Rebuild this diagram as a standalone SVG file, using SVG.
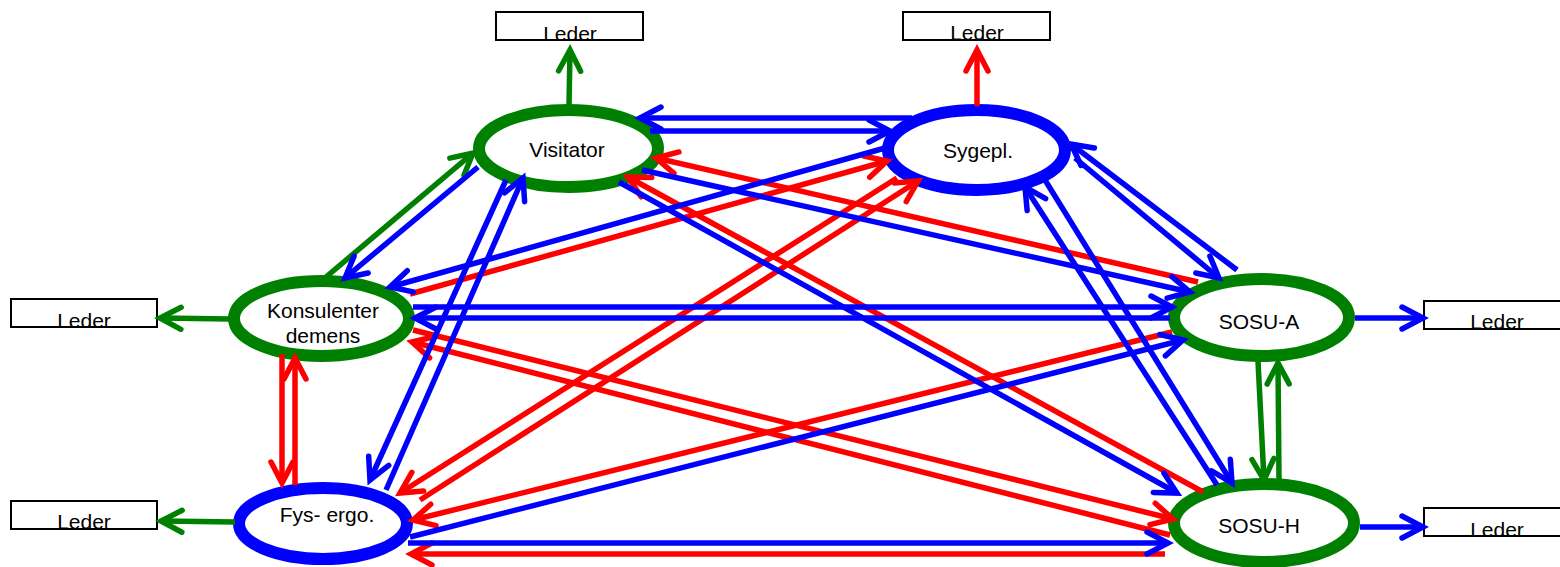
<svg xmlns="http://www.w3.org/2000/svg" width="1560" height="567" viewBox="0 0 1560 567">
<style>
.node{fill:#fff;stroke-width:12}
.g{stroke:#008000}
.b{stroke:#0000ff}
.lbl{font-family:"Liberation Sans",Arial,sans-serif;font-size:21px;fill:#000;text-anchor:middle}
.box{fill:#fff;stroke:#000;stroke-width:2}
#connectors line{stroke-width:5.5;fill:none}
.cg{stroke:#008000;marker-end:url(#mg)}
.cr{stroke:#ff0000;marker-end:url(#mr)}
.cb{stroke:#0000ff;marker-end:url(#mb)}
</style>
<defs>
<marker id="mg" markerUnits="userSpaceOnUse" viewBox="-26 -15 30 30" refX="0" refY="0" markerWidth="30" markerHeight="30" orient="auto" overflow="visible"><path d="M-21,-11 L0,0 L-21,11" fill="none" stroke="#008000" stroke-width="5.5" stroke-linecap="round" stroke-linejoin="miter"/></marker>
<marker id="mr" markerUnits="userSpaceOnUse" viewBox="-26 -15 30 30" refX="0" refY="0" markerWidth="30" markerHeight="30" orient="auto" overflow="visible"><path d="M-21,-11 L0,0 L-21,11" fill="none" stroke="#ff0000" stroke-width="5.5" stroke-linecap="round" stroke-linejoin="miter"/></marker>
<marker id="mb" markerUnits="userSpaceOnUse" viewBox="-26 -15 30 30" refX="0" refY="0" markerWidth="30" markerHeight="30" orient="auto" overflow="visible"><path d="M-21,-11 L0,0 L-21,11" fill="none" stroke="#0000ff" stroke-width="5.5" stroke-linecap="round" stroke-linejoin="miter"/></marker>
</defs>
<rect width="1560" height="567" fill="#fff"/>
<g id="leder-visitator"><rect class="box" x="496" y="12" width="147" height="28"/><text class="lbl" x="570" y="41">Leder</text></g>
<g id="leder-sygepl"><rect class="box" x="903" y="12" width="147" height="28"/><text class="lbl" x="977" y="40">Leder</text></g>
<g id="leder-konsulenter"><rect class="box" x="11" y="299" width="146" height="28"/><text class="lbl" x="84" y="328">Leder</text></g>
<g id="leder-fys"><rect class="box" x="11" y="501" width="146" height="28"/><text class="lbl" x="84" y="529">Leder</text></g>
<g id="leder-sosua"><rect class="box" x="1424" y="301" width="146" height="28"/><text class="lbl" x="1497" y="329">Leder</text></g>
<g id="leder-sosuh"><rect class="box" x="1424" y="508" width="146" height="28"/><text class="lbl" x="1497" y="537">Leder</text></g>
<g id="visitator"><ellipse class="node g" cx="568.5" cy="148.5" rx="89.5" ry="38.5"/><text class="lbl" x="567" y="157">Visitator</text></g>
<g id="sygepl"><ellipse class="node b" cx="976.5" cy="150" rx="88.5" ry="40"/><text class="lbl" x="978" y="158">Sygepl.</text></g>
<g id="konsulenter"><ellipse class="node g" cx="321.5" cy="318.5" rx="87.5" ry="37.5"/><text class="lbl" x="323" y="318">Konsulenter</text><text class="lbl" x="323" y="343">demens</text></g>
<g id="fysergo"><ellipse class="node b" cx="323" cy="523.5" rx="84" ry="35.5"/><text class="lbl" x="327" y="522">Fys- ergo.</text></g>
<g id="sosua"><ellipse class="node g" cx="1261.5" cy="317.5" rx="87.5" ry="38.5"/><text class="lbl" x="1259" y="329">SOSU-A</text></g>
<g id="sosuh"><ellipse class="node g" cx="1264" cy="523" rx="90" ry="39"/><text class="lbl" x="1259" y="533">SOSU-H</text></g>
<g id="connectors">
<line class="cg" x1="569" y1="106" x2="570" y2="50"/>
<line class="cg" x1="230" y1="319" x2="160" y2="318"/>
<line class="cg" x1="235" y1="522" x2="161" y2="521"/>
<line class="cg" x1="326" y1="277" x2="473" y2="153"/>
<line class="cg" x1="1258" y1="361" x2="1264" y2="480"/>
<line class="cg" x1="1279" y1="481" x2="1278" y2="363"/>
<line class="cr" x1="977" y1="106" x2="977" y2="50"/>
<line class="cr" x1="1198" y1="282" x2="656" y2="158"/>
<line class="cr" x1="1203" y1="492" x2="628" y2="177"/>
<line class="cr" x1="410" y1="294" x2="887" y2="161"/>
<line class="cr" x1="897" y1="178" x2="400" y2="493"/>
<line class="cr" x1="420" y1="500" x2="918" y2="181"/>
<line class="cr" x1="282" y1="354" x2="282" y2="483"/>
<line class="cr" x1="295" y1="485" x2="295" y2="358"/>
<line class="cr" x1="413" y1="330" x2="1173" y2="519"/>
<line class="cr" x1="1170" y1="535" x2="412" y2="342"/>
<line class="cr" x1="1172" y1="332" x2="413" y2="520"/>
<line class="cr" x1="1165" y1="554" x2="411" y2="554"/>
<line class="cb" x1="1355" y1="318" x2="1423" y2="318"/>
<line class="cb" x1="1360" y1="527" x2="1423" y2="527"/>
<line class="cb" x1="912" y1="118" x2="640" y2="118"/>
<line class="cb" x1="650" y1="131" x2="890" y2="131"/>
<line class="cb" x1="478" y1="167" x2="345" y2="278"/>
<line class="cb" x1="506" y1="180" x2="370" y2="480"/>
<line class="cb" x1="386" y1="490" x2="523" y2="178"/>
<line class="cb" x1="642" y1="170" x2="1190" y2="292"/>
<line class="cb" x1="619" y1="182" x2="1177" y2="493"/>
<line class="cb" x1="885" y1="148" x2="390" y2="287"/>
<line class="cb" x1="1237" y1="270" x2="1071" y2="144"/>
<line class="cb" x1="1075" y1="158" x2="1219" y2="278"/>
<line class="cb" x1="1217" y1="485" x2="1025" y2="187"/>
<line class="cb" x1="1045" y1="180" x2="1232" y2="483"/>
<line class="cb" x1="413" y1="307" x2="1172" y2="307"/>
<line class="cb" x1="1170" y1="318" x2="415" y2="318"/>
<line class="cb" x1="410" y1="537" x2="1183" y2="340"/>
<line class="cb" x1="408" y1="543" x2="1168" y2="543"/>
</g>
</svg>
